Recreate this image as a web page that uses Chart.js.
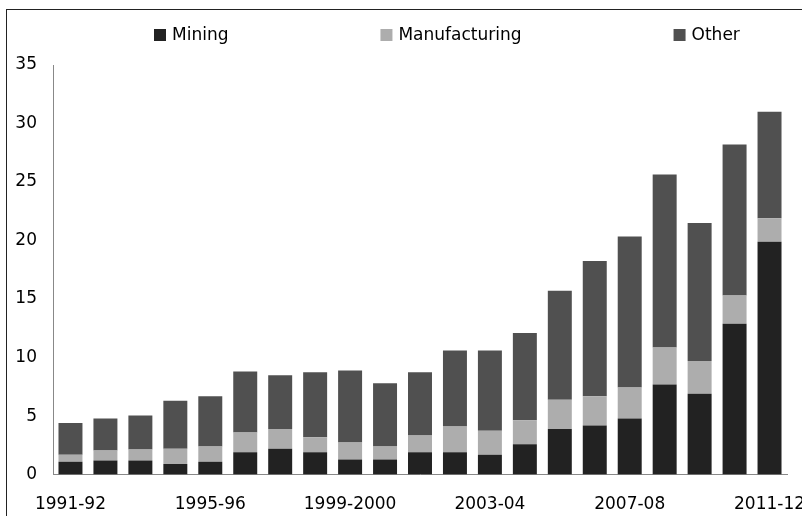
<!DOCTYPE html>
<html lang="en">
<head>
<meta charset="UTF-8" />
<title>Investment by industry</title>
<script src="https://cdn.jsdelivr.net/npm/chart.js@4.4.1/dist/chart.umd.min.js"></script>
<style>
  html, body { margin: 0; padding: 0; background: #fff; }
  #wrap { position: relative; width: 802px; height: 516px; overflow: hidden; }
  #frame { position: absolute; left: 6px; top: 9px; width: 900px; height: 600px; border: 1px solid #222; }
  #chart { position: absolute; left: 0; top: 0; }
</style>
</head>
<body>
<div id="wrap">
  <div id="frame"></div>
  <canvas id="chart" width="840" height="537"></canvas>
</div>
<script>
const years = [
  "1991-92", "1992-93", "1993-94", "1994-95", "1995-96", "1996-97", "1997-98",
  "1998-99", "1999-2000", "2000-01", "2001-02", "2002-03", "2003-04", "2004-05",
  "2005-06", "2006-07", "2007-08", "2008-09", "2009-10", "2010-11", "2011-12"
];
const mining = [1.1, 1.2, 1.2, 0.9, 1.1, 1.9, 2.2, 1.9, 1.3, 1.3, 1.9, 1.9, 1.7, 2.6, 3.9, 4.2, 4.8, 7.7, 6.9, 12.9, 19.9];
const manufacturing = [0.6, 0.85, 0.95, 1.3, 1.3, 1.7, 1.7, 1.3, 1.45, 1.1, 1.45, 2.2, 2.05, 2.05, 2.5, 2.5, 2.65, 3.15, 2.8, 2.4, 2.0];
const other = [2.7, 2.75, 2.9, 4.1, 4.3, 5.2, 4.6, 5.55, 6.15, 5.4, 5.4, 6.5, 6.85, 7.45, 9.3, 11.55, 12.9, 14.8, 11.8, 12.9, 9.1];

const FONT = '"DejaVu Sans", sans-serif';

// legend spread across the top, like the original
const spreadLegend = {
  id: "spreadLegend",
  afterDraw(chart) {
    const ctx = chart.ctx;
    const box = 12, y = 35;
    let x = 154;
    ctx.save();
    ctx.font = "17px " + FONT;
    ctx.textBaseline = "middle";
    chart.data.datasets.forEach((ds) => {
      ctx.fillStyle = ds.backgroundColor;
      ctx.fillRect(x, y - box / 2, box, box);
      ctx.fillStyle = "#000";
      ctx.fillText(ds.label, x + box + 6, y + 1);
      x += box + 6 + ctx.measureText(ds.label).width + 152;
    });
    ctx.restore();
  }
};

new Chart(document.getElementById("chart"), {
  type: "bar",
  data: {
    labels: years,
    datasets: [
      { label: "Mining", data: mining, backgroundColor: "#222222" },
      { label: "Manufacturing", data: manufacturing, backgroundColor: "#adadad" },
      { label: "Other", data: other, backgroundColor: "#505050" }
    ]
  },
  options: {
    responsive: false,
    animation: false,
    layout: { padding: { top: 65, right: 53, bottom: 3, left: 0 } },
    datasets: { bar: { categoryPercentage: 1, barPercentage: 0.686, borderWidth: 0 } },
    plugins: { legend: { display: false }, tooltip: { enabled: false } },
    scales: {
      x: {
        stacked: true,
        grid: { display: false, drawTicks: false },
        border: { color: "#888", width: 1 },
        ticks: {
          autoSkip: false,
          maxRotation: 0,
          padding: 19.5,
          color: "#000",
          font: { family: FONT, size: 17 },
          callback: function (v, i) { return i % 4 === 0 ? this.getLabelForValue(v) : ""; }
        }
      },
      y: {
        stacked: true,
        min: 0,
        max: 35,
        grid: { display: false, drawTicks: false },
        border: { color: "#888", width: 1 },
        afterFit(scale) { scale.width = 53; },
        ticks: {
          stepSize: 5,
          padding: 16,
          color: "#000",
          font: { family: FONT, size: 17 }
        }
      }
    }
  },
  plugins: [spreadLegend]
});
</script>
</body>
</html>
